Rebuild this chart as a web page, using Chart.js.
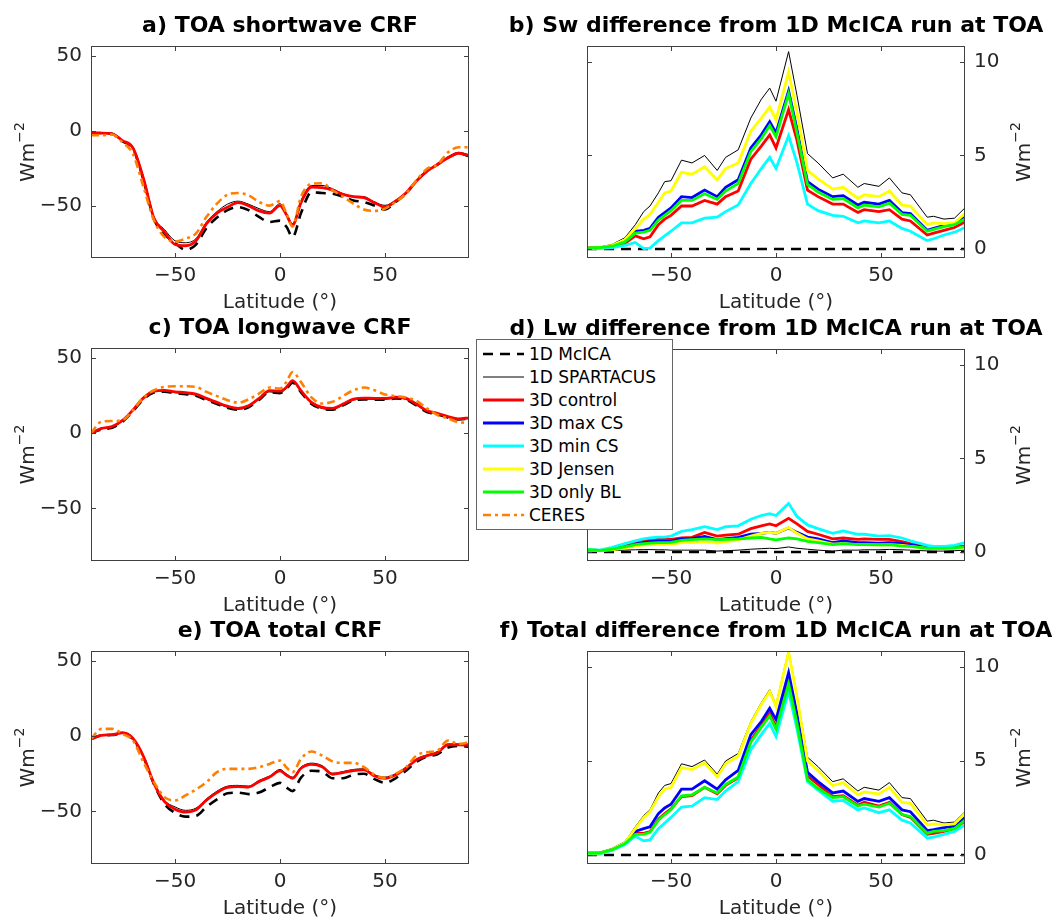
<!DOCTYPE html>
<html>
<head>
<meta charset="utf-8">
<script src="https://cdn.jsdelivr.net/npm/chart.js@4.4.1/dist/chart.umd.min.js"></script>
<style>
  body { margin: 0; background: #fff; }
  #fig { position: relative; width: 1057px; height: 920px; overflow: hidden; background: #fff; }
  #fig canvas { position: absolute; }
  #legend {
    position: absolute; left: 476px; top: 339px; width: 195px; height: 187px;
    border: 1px solid #666; background: #fff; z-index: 5;
    font-family: 'DejaVu Sans', sans-serif; font-size: 17px; color: #000;
    padding-top: 2px; box-sizing: content-box;
  }
  #legend .row { height: 23.1px; display: flex; align-items: center; white-space: nowrap; }
  #legend svg { width: 48px; height: 12px; margin-right: 4px; flex: none; }
</style>
</head>
<body>
<div id="fig">
  <canvas id="panelA" width="480" height="318" style="left:0;top:0"></canvas>
  <canvas id="panelB" width="577" height="318" style="left:480px;top:0"></canvas>
  <canvas id="panelC" width="480" height="319" style="left:0;top:302px"></canvas>
  <canvas id="panelD" width="577" height="318" style="left:480px;top:303px"></canvas>
  <canvas id="panelE" width="480" height="319" style="left:0;top:605px"></canvas>
  <canvas id="panelF" width="577" height="319" style="left:480px;top:605px"></canvas>
  <div id="legend"></div>
</div>
<script>
// latitudes (deg) for the CRF panels and for the difference panels
const latitude = [-90,-85,-80,-75,-70,-65,-60,-55,-50,-45,-40,-35,-30,-25,-20,-15,-10,-5,0,3,6,10,15,20,25,30,35,40,45,50,55,60,65,70,75,80,85,90];
const latDiff = [-90,-84,-78,-72,-67,-63,-60,-56,-53,-50,-45,-40,-34,-28,-24,-18,-12,-7,-3,0,6,10,15,20,27,32,39,42,49,54,60,64,72,75,80,85,90];

const xTicks = [-50, 0, 50];
const crfTicks = [-50, 0, 50];
const diffTicks = [0, 5, 10];

// a) TOA shortwave CRF
const swMcica     = [-1.5,-1.5,-2,-7,-12,-33,-59,-69,-75,-79.5,-76,-65,-58,-53,-51,-53,-57.5,-61,-60,-64,-71,-55,-41,-41.6,-42,-44,-46.5,-47.6,-50,-52.6,-47.6,-42,-33.5,-27,-22.5,-18,-15,-17];
const swSpartacus = [-1.5,-1.5,-2,-6.5,-11,-31,-57.5,-66,-73.5,-74.8,-72,-61,-54,-49,-47,-49,-52,-54,-48.7,-55,-62,-46.5,-36.5,-36.5,-38.7,-42,-43.8,-44,-47.6,-49.8,-46.5,-41,-33,-26.5,-22,-17.7,-14.4,-16];
const swControl   = [-1.5,-1.5,-2,-6.5,-11.5,-32,-58.5,-67.5,-76,-76.8,-73.5,-62,-55,-51,-48,-50,-53.5,-55,-50,-56,-63,-48,-37.6,-38,-39.6,-42.5,-44,-44.7,-48,-51,-47,-41.5,-33.5,-27,-22.5,-18,-15,-16.5];
const swCeres     = [-3,-3,-2.5,-7.7,-15.5,-37.6,-60,-71,-74,-72,-68.6,-57.5,-48.7,-42.7,-41.6,-43,-47.5,-50,-47,-55,-64,-44,-35.4,-35,-39.8,-44,-48.7,-52.6,-53.5,-52,-47.6,-42,-33,-25.4,-22.5,-14.4,-11,-11];

// c) TOA longwave CRF
const lwMcica     = [0,2.6,3.7,7.7,14.7,22.6,27.1,27.6,26.6,26,24.9,22.1,19.4,16.9,15.6,17.3,22.2,27.2,26.7,29.4,33.6,27.2,19.5,16.3,15.7,18.5,21.8,22.5,22.3,22.3,23.1,22.3,18.5,14.1,12.6,10.4,9.1,9.7];
const lwSpartacus = [0,2.9,4,8,15,23,27.5,28,27,26.4,25.3,22.5,19.8,17.2,15.9,17.6,22.5,27.5,27,29.7,34,27.5,19.8,16.5,15.9,18.7,22,22.7,22.5,22.5,23.3,22.5,18.7,14.3,12.8,10.6,9.3,9.9];
const lwControl   = [0,3.2,4.5,8.5,15.5,23.5,28,28.5,27.5,27,26,23.2,20.5,18,16.6,18.3,23.2,28.3,28,30.5,35,28.3,20.5,17.2,16.6,19.4,22.7,23.4,23.2,23.2,24,23.2,19.4,15,13.3,11,9.6,10.2];
const lwCeres     = [0,7.7,8.1,8.8,15.4,23.8,28.6,30.8,31.3,31.3,30.8,27.5,24.7,22,20.3,22.5,26.4,30.4,29.7,34,40.7,34,23.8,19.8,20.9,24.7,28.6,30.4,28.6,25.8,24.7,23.8,21.6,16.5,12.1,9.9,7.3,7];

// e) TOA total CRF
const totMcica     = [-1.8,0.6,0.8,2,-2,-14,-32,-45,-51,-53.5,-53,-47,-42,-38,-37.5,-38.5,-37.5,-34,-31,-34,-36.5,-27.5,-23,-23.5,-28,-28,-25.5,-25,-28.5,-31,-28,-23,-17,-13.5,-12,-7.5,-6.5,-7];
const totSpartacus = [-1.8,0.9,1.1,2.5,-1,-12.8,-30.5,-42.7,-47,-49.3,-47.8,-41.6,-36.5,-33.2,-32.7,-33.2,-29.4,-26.5,-22.1,-25,-27.2,-20.6,-17.9,-19.5,-24.6,-23.5,-22.1,-21.7,-25.7,-27.2,-25,-20.6,-15,-12.4,-10.2,-5.1,-5.1,-5.1];
const totControl   = [-1.8,0.6,1,2.3,-1.5,-13.5,-31.5,-43.5,-48.5,-50.5,-49,-42.5,-37.5,-34,-33.5,-33.8,-30.2,-27.2,-23,-25.8,-28,-21.3,-18.7,-20.3,-25.3,-24.2,-22.8,-22.4,-26.4,-28,-25.8,-21.3,-15.7,-13,-10.8,-5.8,-5.8,-6];
const totCeres     = [-1.8,4.9,4.9,1.5,-2.9,-17.3,-30.5,-40.5,-42.7,-39.4,-35.4,-30.5,-23.9,-21.7,-21.7,-21.7,-20.6,-18.4,-16.2,-20.6,-23.9,-15,-10.2,-12.8,-16.8,-17.7,-17.7,-20.6,-25.7,-27.7,-25,-20.6,-12.8,-10.6,-9.5,-2.9,-5.1,-4];

// difference of 1D McICA from itself
const diffMcica = [0,0,0,0,0,0,0,0,0,0,0,0,0,0,0,0,0,0,0,0,0,0,0,0,0,0,0,0,0,0,0,0,0,0,0,0,0];

// b) Sw difference from 1D McICA
const swdSpartacus = [0.05,0.1,0.25,0.6,1.3,2.0,2.3,3.0,3.6,3.65,4.75,4.6,5.0,4.2,4.9,5.3,7.0,8.0,8.6,7.9,10.55,8.2,5.1,4.6,3.8,4.0,3.3,3.5,3.35,3.8,3.0,2.9,1.7,1.75,1.6,1.65,2.2];
const swdControl   = [0.05,0.07,0.12,0.3,0.7,0.55,0.65,1.3,1.6,1.8,2.3,2.3,2.6,2.4,2.8,3.1,4.8,5.5,6.1,5.4,7.45,5.8,3.15,2.8,2.4,2.4,1.95,2.1,2.0,2.1,1.6,1.5,0.75,0.85,1.0,1.15,1.45];
const swdMaxCS     = [0.05,0.08,0.15,0.4,0.95,1.0,1.1,1.7,1.95,2.2,2.8,2.75,3.15,2.8,3.3,3.7,5.4,6.1,6.8,6.2,8.45,6.4,3.6,3.2,2.8,2.85,2.35,2.5,2.4,2.6,1.95,1.9,1.0,1.1,1.25,1.35,1.7];
const swdMinCS     = [0.02,0.03,0.08,0.2,0.35,0.02,0.05,0.45,0.7,0.95,1.4,1.4,1.65,1.7,2.0,2.35,3.5,4.3,4.9,4.3,6.05,4.6,2.4,2.05,1.8,1.75,1.4,1.5,1.4,1.5,1.1,0.95,0.45,0.55,0.75,0.9,1.15];
const swdJensen    = [0.05,0.08,0.2,0.5,1.1,1.6,1.85,2.5,3.0,3.1,4.1,4.0,4.4,3.7,4.3,4.6,6.3,7.0,7.6,6.9,9.45,7.3,4.2,3.75,3.2,3.3,2.7,2.9,2.8,3.1,2.35,2.3,1.3,1.4,1.35,1.4,1.9];
const swdOnlyBL    = [0.05,0.08,0.15,0.38,0.85,0.9,1.0,1.55,1.8,2.05,2.6,2.6,2.95,2.65,3.1,3.5,5.2,5.9,6.6,6.0,8.3,6.2,3.45,3.05,2.65,2.7,2.2,2.35,2.25,2.45,1.85,1.8,0.95,1.05,1.2,1.3,1.6];

// d) Lw difference from 1D McICA
const lwdSpartacus = [0.08,0.05,0.08,0.1,0.12,0.13,0.13,0.12,0.12,0.1,0.1,0.1,0.1,0.05,0.07,0.1,0.15,0.18,0.2,0.18,0.27,0.2,0.15,0.1,0.05,0.1,0.1,0.12,0.12,0.14,0.12,0.1,0.06,0.05,0.05,0.07,0.1];
const lwdControl   = [0.1,0.08,0.18,0.3,0.5,0.6,0.65,0.68,0.68,0.68,0.75,0.78,1.05,0.85,0.9,0.95,1.25,1.4,1.5,1.4,1.8,1.5,1.1,0.95,0.7,0.75,0.68,0.7,0.68,0.68,0.55,0.45,0.28,0.25,0.25,0.27,0.32];
const lwdMaxCS     = [0.1,0.08,0.15,0.28,0.42,0.5,0.55,0.57,0.57,0.58,0.7,0.72,0.83,0.66,0.72,0.78,0.95,1.0,1.05,1.0,1.28,1.05,0.8,0.7,0.5,0.6,0.5,0.5,0.48,0.5,0.45,0.38,0.25,0.22,0.22,0.22,0.3];
const lwdMinCS     = [0.15,0.1,0.25,0.45,0.6,0.7,0.75,0.8,0.8,0.85,1.1,1.2,1.35,1.2,1.35,1.4,1.75,1.95,2.05,1.95,2.6,1.9,1.45,1.25,1.0,1.13,0.95,0.95,0.85,0.88,0.75,0.6,0.35,0.3,0.3,0.35,0.5];
const lwdJensen    = [0.1,0.08,0.12,0.22,0.32,0.38,0.4,0.4,0.4,0.42,0.5,0.5,0.55,0.48,0.55,0.65,0.85,1.0,1.05,1.0,1.3,1.0,0.7,0.6,0.42,0.45,0.4,0.4,0.38,0.4,0.35,0.3,0.2,0.18,0.18,0.2,0.25];
const lwdOnlyBL    = [0.12,0.08,0.15,0.28,0.4,0.45,0.48,0.5,0.5,0.52,0.62,0.66,0.7,0.66,0.68,0.7,0.75,0.78,0.7,0.65,0.75,0.7,0.57,0.5,0.4,0.45,0.4,0.4,0.38,0.4,0.32,0.3,0.2,0.2,0.2,0.22,0.27];

// f) Total difference from 1D McICA
const totdSpartacus = [0.1,0.1,0.3,0.7,1.5,2.1,2.4,3.3,3.7,3.8,4.85,4.7,5.05,4.3,5.0,5.4,7.1,8.1,8.8,8.0,10.9,8.5,5.2,4.7,3.9,4.05,3.4,3.6,3.45,3.85,3.05,3.0,1.8,1.85,1.7,1.75,2.3];
const totdControl   = [0.1,0.1,0.28,0.6,1.15,1.15,1.25,1.9,2.2,2.45,3.1,3.15,3.6,3.25,3.7,4.1,6.1,6.9,7.55,6.8,9.25,7.3,4.2,3.75,3.1,3.15,2.65,2.8,2.6,2.8,2.15,2.0,1.1,1.15,1.25,1.4,1.8];
const totdMaxCS     = [0.1,0.1,0.3,0.65,1.25,1.4,1.5,2.2,2.5,2.7,3.5,3.5,3.95,3.5,4.0,4.5,6.4,7.1,7.8,7.2,9.7,7.5,4.4,3.9,3.3,3.4,2.85,3.0,2.85,3.05,2.4,2.3,1.3,1.35,1.45,1.55,2.0];
const totdMinCS     = [0.05,0.05,0.25,0.55,1.0,0.75,0.8,1.4,1.7,2.0,2.55,2.6,3.05,2.95,3.4,3.9,5.6,6.4,7.0,6.3,8.7,6.7,3.9,3.45,2.85,2.9,2.4,2.5,2.25,2.4,1.85,1.7,0.9,0.95,1.1,1.25,1.6];
const totdJensen    = [0.1,0.1,0.3,0.65,1.4,2.0,2.3,3.1,3.5,3.6,4.65,4.55,4.9,4.15,4.85,5.25,7.0,8.0,8.7,7.9,10.8,8.4,5.0,4.5,3.7,3.85,3.2,3.35,3.25,3.6,2.8,2.75,1.6,1.65,1.6,1.65,2.2];
const totdOnlyBL    = [0.1,0.1,0.28,0.6,1.1,1.1,1.2,1.85,2.15,2.4,3.15,3.2,3.6,3.3,3.75,4.15,6.0,6.8,7.4,6.7,9.1,7.0,4.0,3.55,3.05,3.1,2.6,2.7,2.55,2.75,2.15,2.05,1.15,1.25,1.3,1.4,1.85];

// line styles (MATLAB-like)
const lineStyles = {
  '1D McICA':     { color: '#000000', width: 2.6, dash: [10, 7] },
  '1D SPARTACUS': { color: '#000000', width: 1, dash: [] },
  '3D control':   { color: '#ff0000', width: 2.8, dash: [] },
  '3D max CS':    { color: '#0000ff', width: 2.8, dash: [] },
  '3D min CS':    { color: '#00ffff', width: 2.8, dash: [] },
  '3D Jensen':    { color: '#ffff00', width: 2.8, dash: [] },
  '3D only BL':   { color: '#00ff00', width: 2.8, dash: [] },
  'CERES':        { color: '#ff8000', width: 2.6, dash: [8, 4, 3, 4] }
};

const axisColor = '#404040';
const textColor = '#262626';
Chart.defaults.font.family = "'DejaVu Sans', sans-serif";

function minusLabel(v) {
  return v < 0 ? '\u2212' + Math.abs(v) : String(v);
}

// title over the axes, box, inward ticks on all four sides, and the Wm^-2 label
const matlabBox = {
  id: 'matlabBox',
  afterDatasetsDraw(chart, args, opts) {
    const { ctx, chartArea: a } = chart;
    const xs = chart.scales.x, ys = chart.scales.y;
    const tl = 5;
    ctx.save();
    ctx.strokeStyle = axisColor;
    ctx.lineWidth = 1;
    ctx.beginPath();
    xs.ticks.forEach(t => {
      const px = Math.round(xs.getPixelForValue(t.value)) + 0.5;
      ctx.moveTo(px, a.bottom); ctx.lineTo(px, a.bottom - tl);
      ctx.moveTo(px, a.top); ctx.lineTo(px, a.top + tl);
    });
    ys.ticks.forEach(t => {
      const py = Math.round(ys.getPixelForValue(t.value)) + 0.5;
      ctx.moveTo(a.left, py); ctx.lineTo(a.left + tl, py);
      ctx.moveTo(a.right, py); ctx.lineTo(a.right - tl, py);
    });
    ctx.stroke();
    ctx.strokeRect(Math.round(a.left) + 0.5, Math.round(a.top) + 0.5,
                   Math.round(a.right) - Math.round(a.left) - 1, Math.round(a.bottom) - Math.round(a.top) - 1);

    // panel title centred over the axes
    ctx.fillStyle = '#000';
    ctx.font = "bold 22px 'DejaVu Sans'";
    ctx.textAlign = 'center';
    ctx.textBaseline = 'middle';
    ctx.fillText(opts.title, (a.left + a.right) / 2, a.top - 20);

    // y label, reading bottom to top on both sides
    const cx = opts.side === 'left' ? a.left - 64 : a.right + 58;
    const cy = (a.top + a.bottom) / 2;
    ctx.fillStyle = textColor;
    ctx.font = "20px 'DejaVu Sans'";
    const w1 = ctx.measureText('Wm').width;
    ctx.font = "14px 'DejaVu Sans'";
    const w2 = ctx.measureText('\u22122').width;
    const w = w1 + w2;
    ctx.translate(cx, cy);
    ctx.rotate(-Math.PI / 2);
    ctx.textBaseline = 'middle';
    ctx.textAlign = 'left';
    ctx.font = "20px 'DejaVu Sans'";
    ctx.fillText('Wm', -w / 2, 2);
    ctx.font = "14px 'DejaVu Sans'";
    ctx.fillText('\u22122', -w / 2 + w1, -7);
    ctx.restore();
  }
};

function drawPanel(id, cfg) {
  const ctx = document.getElementById(id);
  const left = cfg.side === 'left';
  const n = cfg.series.length;
  const datasets = cfg.series.map(([name, values], i) => {
    const st = lineStyles[name];
    return {
      label: name,
      data: cfg.lat.map((x, k) => ({ x: x, y: values[k] })),
      borderColor: st.color,
      backgroundColor: st.color,
      borderWidth: st.width,
      borderDash: st.dash,
      pointRadius: 0,
      fill: false,
      cubicInterpolationMode: cfg.smooth ? 'monotone' : 'default',
      tension: 0,
      order: n - i
    };
  });

  new Chart(ctx, {
    type: 'line',
    data: { datasets: datasets },
    options: {
      responsive: false,
      animation: false,
      devicePixelRatio: 1,
      layout: { padding: left ? { left: 0, right: 11, top: 46, bottom: 0 } : { left: 107, right: 0, top: 46, bottom: 0 } },
      plugins: {
        legend: { display: false },
        tooltip: { enabled: false },
        title: { display: false },
        matlabBox: { side: cfg.side, title: cfg.title }
      },
      scales: {
        x: {
          type: 'linear',
          min: -90,
          max: 90,
          afterBuildTicks: s => { s.ticks = xTicks.map(v => ({ value: v })); },
          afterFit: s => { s.height = 60; },
          grid: { display: false, drawTicks: false },
          border: { display: false },
          ticks: { color: textColor, font: { size: 20 }, padding: 6, maxRotation: 0, callback: minusLabel },
          title: { display: true, text: 'Latitude (\u00b0)', color: textColor, font: { size: 20 }, padding: { top: 0, bottom: 3 } }
        },
        y: {
          type: 'linear',
          position: cfg.side,
          min: cfg.yMin,
          max: cfg.yMax,
          afterBuildTicks: s => { s.ticks = cfg.yTicks.map(v => ({ value: v })); },
          afterFit: s => { s.width = left ? 91 : 92; },
          grid: { display: false, drawTicks: false },
          border: { display: false },
          ticks: { color: textColor, font: { size: 20 }, padding: 9, callback: minusLabel }
        }
      }
    },
    plugins: [matlabBox]
  });
}

drawPanel('panelA', {
  title: 'a) TOA shortwave CRF', side: 'left', lat: latitude, smooth: true,
  yMin: -85, yMax: 56.7, yTicks: crfTicks,
  series: [['1D McICA', swMcica], ['1D SPARTACUS', swSpartacus], ['3D control', swControl], ['CERES', swCeres]]
});
drawPanel('panelC', {
  title: 'c) TOA longwave CRF', side: 'left', lat: latitude, smooth: true,
  yMin: -85, yMax: 56.7, yTicks: crfTicks,
  series: [['1D McICA', lwMcica], ['1D SPARTACUS', lwSpartacus], ['3D control', lwControl], ['CERES', lwCeres]]
});
drawPanel('panelE', {
  title: 'e) TOA total CRF', side: 'left', lat: latitude, smooth: true,
  yMin: -85, yMax: 56.7, yTicks: crfTicks,
  series: [['1D McICA', totMcica], ['1D SPARTACUS', totSpartacus], ['3D control', totControl], ['CERES', totCeres]]
});
drawPanel('panelB', {
  title: 'b) Sw difference from 1D McICA run at TOA', side: 'right', lat: latDiff, smooth: false,
  yMin: -0.48, yMax: 10.85, yTicks: diffTicks,
  series: [['1D McICA', diffMcica], ['1D SPARTACUS', swdSpartacus], ['3D control', swdControl], ['3D max CS', swdMaxCS],
           ['3D min CS', swdMinCS], ['3D Jensen', swdJensen], ['3D only BL', swdOnlyBL]]
});
drawPanel('panelD', {
  title: 'd) Lw difference from 1D McICA run at TOA', side: 'right', lat: latDiff, smooth: false,
  yMin: -0.48, yMax: 10.85, yTicks: diffTicks,
  series: [['1D McICA', diffMcica], ['1D SPARTACUS', lwdSpartacus], ['3D control', lwdControl], ['3D max CS', lwdMaxCS],
           ['3D min CS', lwdMinCS], ['3D Jensen', lwdJensen], ['3D only BL', lwdOnlyBL]]
});
drawPanel('panelF', {
  title: 'f) Total difference from 1D McICA run at TOA', side: 'right', lat: latDiff, smooth: false,
  yMin: -0.48, yMax: 10.85, yTicks: diffTicks,
  series: [['1D McICA', diffMcica], ['1D SPARTACUS', totdSpartacus], ['3D control', totdControl], ['3D max CS', totdMaxCS],
           ['3D min CS', totdMinCS], ['3D Jensen', totdJensen], ['3D only BL', totdOnlyBL]]
});

// shared legend
const legend = document.getElementById('legend');
Object.keys(lineStyles).forEach(name => {
  const st = lineStyles[name];
  const row = document.createElement('div');
  row.className = 'row';
  row.innerHTML = '<svg viewBox="0 0 48 12"><line x1="6" y1="6" x2="47" y2="6" stroke="' + st.color +
    '" stroke-width="' + st.width + '" stroke-dasharray="' + (st.dash.length ? st.dash.join(',') : 'none') + '"/></svg>' +
    '<span>' + name + '</span>';
  legend.appendChild(row);
});
</script>
</body>
</html>
